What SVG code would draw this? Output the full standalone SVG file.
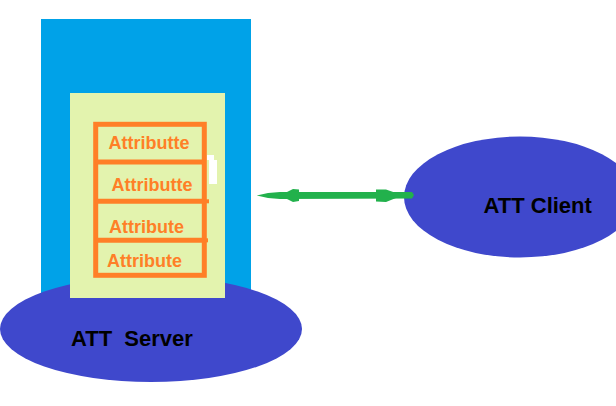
<svg xmlns="http://www.w3.org/2000/svg" width="616" height="406" viewBox="0 0 616 406">
<style>
.lbl{font-family:"Liberation Sans",Arial,sans-serif;font-weight:bold;}
.attr{font-size:18px;fill:#FF7F27;}
.big{font-size:22px;fill:#000;white-space:pre;}
.box{fill:none;stroke:#FF7F27;stroke-width:5;}
</style>
<rect width="616" height="406" fill="#fff"/>
<g id="server">
  <rect x="41" y="19" width="210" height="290" fill="#00A2E8"/>
  <ellipse cx="151" cy="329" rx="151" ry="53" fill="#3F48CC"/>
  <rect x="70" y="93" width="155" height="205" fill="#E3F3AE"/>
  <path d="M207,155 H214 V160 H217 V184 H209 V160 H207 Z" fill="#fff"/>
  <text class="lbl big" x="71" y="346" xml:space="preserve">ATT  Server</text>
</g>
<g id="attributes">
  <rect class="box" x="95.7" y="124.3" width="108.6" height="151"/>
  <line class="box" x1="95.7" y1="162" x2="204.3" y2="162"/>
  <line class="box" x1="95.7" y1="201.3" x2="204.3" y2="201.3"/>
  <line class="box" x1="95.7" y1="240.3" x2="204.3" y2="240.3"/>
  <rect x="204" y="199.3" width="5" height="4" fill="#FF7F27"/>
  <rect x="204" y="238.3" width="4" height="4" fill="#FF7F27"/>
  <text class="lbl attr" x="108.5" y="149">Attributte</text>
  <text class="lbl attr" x="111.5" y="191">Attributte</text>
  <text class="lbl attr" x="109" y="232.5">Attribute</text>
  <text class="lbl attr" x="107" y="266.5">Attribute</text>
</g>
<g id="client">
  <ellipse cx="520" cy="197" rx="116" ry="60.5" fill="#3F48CC"/>
  <text class="lbl big" x="483.5" y="212.5">ATT Client</text>
</g>
<g id="connectors">
  <path d="M256.7,195.5 L268,193 L280,192 L412,192 L414,195 L412,198.5 L280,199 L268,198 Z" fill="#22B14C"/>
  <path d="M285,193 L293,189 L299,189.5 L299,201 L293,202 L285,198 Z" fill="#22B14C"/>
  <path d="M376,189.5 L386,189.5 L396,193 L396,198 L386,202 L376,201.5 Z" fill="#22B14C"/>
</g>
</svg>
